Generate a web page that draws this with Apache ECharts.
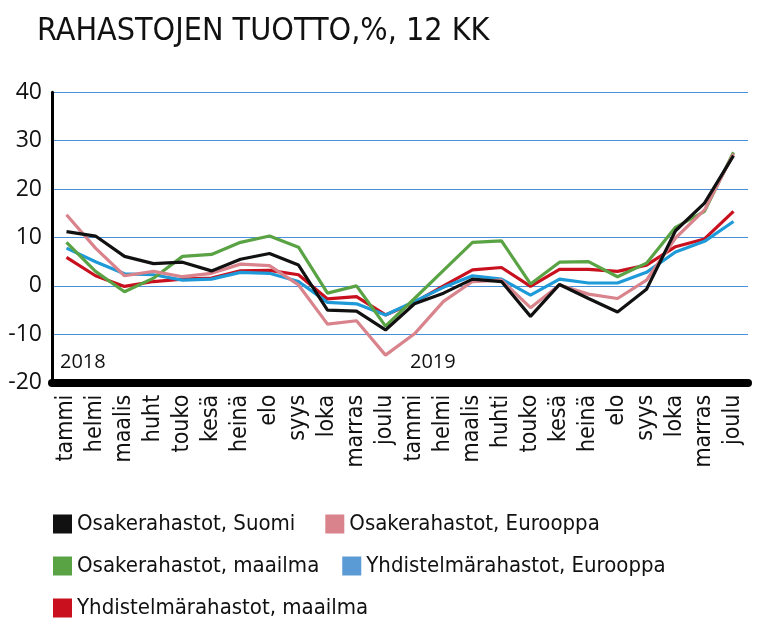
<!DOCTYPE html>
<html><head><meta charset="utf-8">
<script src="https://cdn.jsdelivr.net/npm/echarts@6/dist/echarts.min.js"></script>
<style>html,body{margin:0;padding:0;background:#fff}#c{width:770px;height:641px}</style>
</head><body><div id="c"></div>
<script>
const categories = ['tammi','helmi','maalis','huht','touko','kesä','heinä','elo','syys','loka','marras','joulu',
  'tammi','helmi','maalis','huhti','touko','kesä','heinä','elo','syys','loka','marras','joulu'];
const yearLabels = ['2018','2019'];
const yTicks = [-20,-10,0,10,20,30,40];
const osakeSuomi = [11.2,10.3,6.1,4.6,4.9,3.1,5.5,6.7,4.3,-5.0,-5.2,-9.1, -3.7,-1.5,1.4,0.9,-6.3,0.3,-2.6,-5.4,-0.7,11.4,17.1,26.9];
const osakeEurooppa = [14.7,7.8,2.1,3.0,1.9,2.6,4.5,4.2,0.2,-7.9,-7.2,-14.3, -9.9,-3.2,0.9,1.2,-4.5,0.2,-1.7,-2.6,1.2,9.9,15.7,27.3];
const osakeMaailma = [9.0,3.0,-1.2,1.6,6.1,6.5,9.0,10.3,8.0,-1.5,0.0,-8.3, -2.6,3.2,9.0,9.3,0.4,4.9,5.0,1.9,4.7,12.1,15.4,27.6];
const yhdEurooppa = [7.8,5.0,2.5,2.3,1.2,1.4,2.8,2.6,0.9,-3.4,-3.7,-6.0, -3.2,-0.3,2.1,1.4,-1.9,1.4,0.6,0.6,2.8,7.0,9.2,13.3];
const yhdMaailma = [5.9,2.1,-0.1,0.9,1.4,1.6,3.1,3.2,2.3,-2.7,-2.2,-6.0, -3.4,0.0,3.3,3.8,-0.1,3.4,3.4,3.0,4.3,8.1,9.7,15.4];
const names = ['Osakerahastot, Suomi','Osakerahastot, Eurooppa','Osakerahastot, maailma','Yhdistelmärahastot, Eurooppa','Yhdistelmärahastot, maailma'];

const COND = '"DejaVu Sans Condensed","Liberation Sans Narrow",sans-serif';
const chart = echarts.init(document.getElementById('c'), null, {renderer:'canvas'});
function line(name, data, color, z){
  return {name, type:'line', data, symbol:'none', z, lineStyle:{width:3.2, color}, itemStyle:{color}, animation:false};
}
const legendText = {fontFamily:COND, fontSize:22, color:'#111'};
const legendBase = {icon:'rect', itemWidth:19, itemHeight:19, left:53, padding:0};
chart.setOption({
  animation:false,
  title:{text:'RAHASTOJEN TUOTTO,%, 12 KK', left:37, top:16, padding:0,
    textStyle:{fontFamily:COND, fontWeight:'normal', fontSize:32, color:'#111'}},
  grid:{left:52, right:22, top:92.3, bottom:258.3, containLabel:false},
  xAxis:{type:'category', data:categories, boundaryGap:true,
    axisLine:{onZero:false, lineStyle:{color:'#000', width:8}},
    axisTick:{show:false},
    axisLabel:{rotate:90, interval:0, margin:12, fontSize:23, color:'#111', fontFamily:COND}},
  yAxis:{type:'value', min:yTicks[0], max:yTicks[yTicks.length-1], interval:10,
    axisLine:{show:true, lineStyle:{color:'#000', width:3}},
    axisTick:{show:false},
    splitLine:{lineStyle:{color:'#4a90d9', width:1}},
    axisLabel:{fontSize:23, color:'#111', margin:10, fontFamily:'"Open Sans",sans-serif'}},
  legend:[
    Object.assign({data:[names[0],names[1]], top:513, itemGap:30, textStyle:legendText}, legendBase),
    Object.assign({data:[names[2],{name:names[3], itemStyle:{color:'#5b9bd5'}}], top:555, itemGap:23, textStyle:legendText}, legendBase),
    Object.assign({data:[names[4]], top:597, itemGap:20, textStyle:legendText}, legendBase)
  ],
  graphic:[
    {type:'text', left:60, top:352, style:{text:yearLabels[0], fontSize:20, fill:'#111', fontFamily:'"Open Sans",sans-serif'}},
    {type:'text', left:410, top:352, style:{text:yearLabels[1], fontSize:20, fill:'#111', fontFamily:'"Open Sans",sans-serif'}}
  ],
  series:[
    line(names[4], yhdMaailma, '#c8101e', 2),
    line(names[3], yhdEurooppa, '#1e9ad8', 3),
    line(names[2], osakeMaailma, '#5aa344', 4),
    line(names[1], osakeEurooppa, '#d9838d', 5),
    line(names[0], osakeSuomi, '#111111', 6)
  ]
});
</script></body></html>
